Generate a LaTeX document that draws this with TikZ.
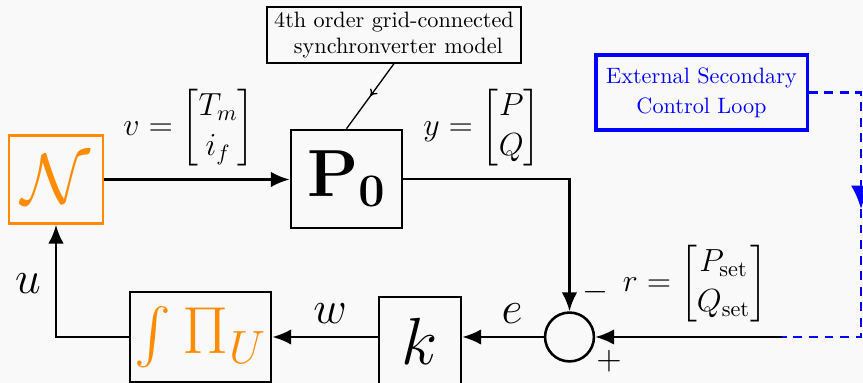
\RequirePackage{fix-cm}
\documentclass[tikz,border=0pt]{standalone}
\usepackage{amsmath}
\usetikzlibrary{arrows.meta,decorations.markings}
\definecolor{bgc}{RGB}{249,249,249}
\definecolor{nnorange}{RGB}{255,140,0}
\definecolor{loopblue}{RGB}{0,0,255}
\begin{document}
\begin{tikzpicture}[x=0.45pt,y=-0.45pt,
  blk/.style={draw,line width=1.15pt,inner sep=0pt},
  conn/.style={line width=1.15pt,-{Latex[length=8.5pt,width=7pt]}},
  bluedash/.style={draw=loopblue,line width=1.1pt,dash pattern=on 4pt off 3pt},
  big/.style={font=\fontsize{30}{36}\selectfont},
  lbl/.style={inner sep=0pt}]
\fill[bgc] (0,0) rectangle (863,383);
\useasboundingbox (0,0) rectangle (863,383);

% blocks
\node[blk,draw=nnorange,text=nnorange,minimum width=42.3pt,minimum height=39.6pt,
      font=\fontsize{32}{38}\selectfont] (N) at (56,179.5) {$\mathcal{N}$};
\node[blk,big,minimum width=50pt,minimum height=44.1pt] (P0) at (346.5,179) {$\mathbf{P}_{\mathbf{0}}$};
\node[blk,big,text=nnorange,minimum width=63.5pt,minimum height=40.5pt] (Pi) at (200.5,337) {$\int\Pi_U$};
\node[blk,big,minimum width=36.9pt,minimum height=39.6pt] (k) at (420,341) {$k$};
\node[circle,draw,line width=1.15pt,minimum size=22pt,inner sep=0pt] (sum) at (569.5,337) {};

% annotation
\node[draw,line width=0.6pt,align=center,minimum width=114.3pt,minimum height=25.2pt,
      inner sep=1pt,font=\fontsize{10}{11.5}\selectfont] (ann) at (394,35)
      {4th order grid-connected\\\hspace*{0.4em}synchronverter model};
\draw[line width=0.6pt,postaction={decorate},
      decoration={markings,mark=at position 0.5 with {\arrow{To[length=3pt,width=4pt]}}}]
      (ann.south) -- (P0.north);

% external loop
\node[draw=loopblue,text=loopblue,line width=1.4pt,align=center,minimum width=95pt,
      minimum height=33.75pt,inner sep=1pt,font=\fontsize{10}{13.5}\selectfont] (ext) at (701.5,92.5)
      {External Secondary\\Control Loop};
\coordinate (d1) at (861,92.5);
\coordinate (d2) at (861,209);
\coordinate (d3) at (861,337);
\coordinate (d4) at (782,337);
\draw[bluedash,-{Latex[length=10.5pt,width=9pt]}] (ext.east) -- (d1) -- (d2);
\draw[bluedash] (d2) -- (d3) -- (d4);

% connectors
\draw[conn] (N.east) -- (N.east -| P0.west);
\draw[conn] (P0.east) -| (sum.north);
\draw[conn] (d4) -- (sum.east);
\draw[conn] (sum.west) -- (sum.west -| k.east);
\draw[conn] (k.west |- sum.west) -- (Pi.east);
\draw[conn] (Pi.west) -| (N.south);

% labels
\node[lbl,font=\Large] (vlab) at (189,128) {$v=\begin{bmatrix}T_m\\ i_f\end{bmatrix}$};
\node[lbl,font=\Large] (ylab) at (482,128) {$y=\begin{bmatrix}P\\ Q\end{bmatrix}$};
\node[lbl,font=\Large] (rlab) at (695,283.5) {$r=\begin{bmatrix}P_{\mathrm{set}}\\ Q_{\mathrm{set}}\end{bmatrix}$};
\node[lbl,font=\huge] (ulab) at (28,284) {$u$};
\node[lbl,font=\huge] (wlab) at (330,314) {$w$};
\node[lbl,font=\huge] (elab) at (512,314) {$e$};
\node[lbl,font=\fontsize{15}{18}\selectfont] (minus) at (595,292) {$-$};
\node[lbl,font=\fontsize{15}{18}\selectfont] (plus) at (609,361) {$+$};
\end{tikzpicture}
\end{document}
